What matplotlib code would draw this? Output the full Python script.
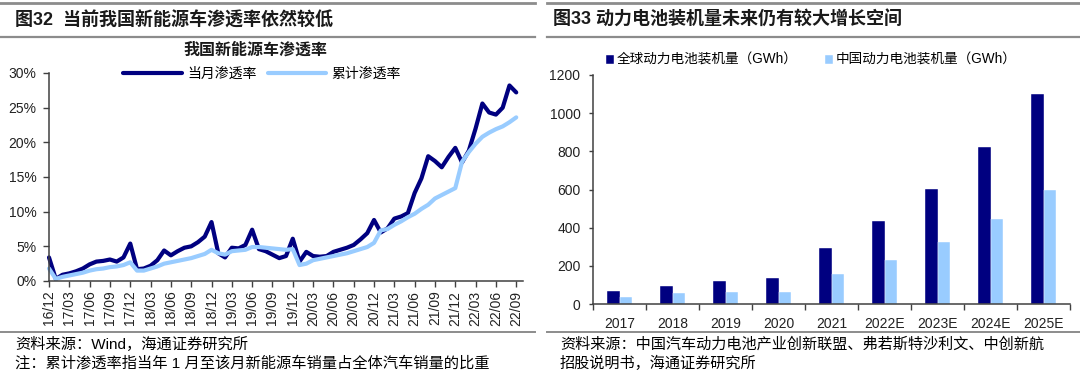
import matplotlib
matplotlib.use('Agg')
import matplotlib.pyplot as plt
from matplotlib.lines import Line2D
from matplotlib.ticker import FuncFormatter
import numpy as np

plt.rcParams['font.family'] = ['Liberation Sans', 'Noto Sans CJK SC']

# ---------------- data ----------------
quarter_labels = ['16/12', '17/03', '17/06', '17/09', '17/12', '18/03', '18/06', '18/09',
                  '18/12', '19/03', '19/06', '19/09', '19/12', '20/03', '20/06', '20/09',
                  '20/12', '21/03', '21/06', '21/09', '21/12', '22/03', '22/06', '22/09']

# monthly penetration (%), 2016-12 .. 2022-09
monthly_rate = [3.4,
                0.3, 0.9, 1.1, 1.4, 1.8, 2.4, 2.8, 2.9, 3.1, 2.8, 3.4, 5.4,
                1.7, 1.8, 2.2, 3.0, 4.4, 3.7, 4.3, 4.8, 5.0, 5.6, 6.4, 8.5,
                4.0, 3.4, 4.8, 4.7, 5.2, 7.4, 4.6, 4.3, 3.8, 3.3, 3.6, 6.1,
                2.8, 4.2, 3.6, 3.5, 3.6, 4.2, 4.5, 4.8, 5.2, 6.0, 6.9, 8.8,
                7.0, 7.6, 9.0, 9.3, 9.8, 12.7, 14.8, 18.0, 17.3, 16.4, 17.9, 19.2,
                17.1, 18.8, 22.0, 25.6, 24.3, 24.0, 25.0, 28.2, 27.2]

# cumulative (year-to-date) penetration (%)
cumulative_rate = [1.8,
                   0.3, 0.6, 0.8, 1.0, 1.2, 1.5, 1.7, 1.8, 2.0, 2.1, 2.3, 2.7,
                   1.5, 1.5, 1.8, 2.1, 2.5, 2.7, 2.9, 3.1, 3.3, 3.6, 3.9, 4.5,
                   4.0, 3.8, 4.3, 4.4, 4.5, 4.9, 4.9, 4.8, 4.7, 4.6, 4.5, 4.6,
                   2.3, 2.5, 3.0, 3.2, 3.4, 3.6, 3.8, 4.0, 4.3, 4.6, 4.9, 5.5,
                   7.3, 7.5, 8.1, 8.6, 9.2, 9.7, 10.4, 11.0, 11.9, 12.4, 12.9, 13.4,
                   17.2, 18.6, 19.8, 20.8, 21.4, 21.9, 22.3, 22.9, 23.6]

years = ['2017', '2018', '2019', '2020', '2021', '2022E', '2023E', '2024E', '2025E']
global_gwh = [66, 92, 118, 137, 296, 435, 604, 823, 1100]
china_gwh = [36, 57, 62, 64, 155, 231, 325, 446, 600]

DARK = '#000080'
LIGHT = '#99CCFF'
GRAY = '#8c8c8c'
AXC = '#404040'

W, H = 1080, 376
fig = plt.figure(figsize=(W / 100, H / 100), dpi=100)


def fx(px):
    return px / W


def fy(py):
    return 1 - py / H


def hline(x0, x1, y, lw=1.5):
    fig.add_artist(Line2D([fx(x0), fx(x1)], [fy(y), fy(y)], transform=fig.transFigure,
                          color=GRAY, lw=lw))


# ---------------- frame lines & texts ----------------
hline(0, 535, 3, 2.0)
hline(0, 535, 37, 1.6)
hline(0, 535, 332, 1.4)
hline(547, 1080, 3, 2.0)
hline(547, 1080, 37, 1.6)
hline(547, 1080, 332, 1.4)

fig.text(fx(15), fy(20), '图32  当前我国新能源车渗透率依然较低', fontsize=13, fontweight='bold',
         ha='left', va='center', color='#1a1a1a')
fig.text(fx(553), fy(20), '图33 动力电池装机量未来仍有较大增长空间', fontsize=13, fontweight='bold',
         ha='left', va='center', color='#1a1a1a')
fig.text(fx(255), fy(50), '我国新能源车渗透率', fontsize=11.5, fontweight='bold',
         ha='center', va='center', color='#1a1a1a')

fig.text(fx(15), fy(344), '资料来源：Wind，海通证券研究所', fontsize=11, ha='left', va='center')
fig.text(fx(15), fy(363), '注：累计渗透率指当年 1 月至该月新能源车销量占全体汽车销量的比重', fontsize=11,
         ha='left', va='center')
fig.text(fx(560), fy(344), '资料来源：中国汽车动力电池产业创新联盟、弗若斯特沙利文、中创新航', fontsize=10.9,
         ha='left', va='center')
fig.text(fx(560), fy(363), '招股说明书，海通证券研究所', fontsize=10.9, ha='left', va='center')

# ---------------- left chart ----------------
ax1 = fig.add_axes([fx(49), fy(281), fx(523) - fx(49), fy(73) - fy(281)])
x = np.arange(len(monthly_rate))
ax1.plot(x, monthly_rate, color=DARK, lw=3.0, solid_joinstyle='round', solid_capstyle='round',
         label='当月渗透率', clip_on=False)
ax1.plot(x, cumulative_rate, color=LIGHT, lw=3.0, solid_joinstyle='round', solid_capstyle='round',
         label='累计渗透率', clip_on=False)
ax1.set_xlim(0, 70)
ax1.set_ylim(0, 30)
ax1.set_yticks(range(0, 31, 5))
ax1.yaxis.set_major_formatter(FuncFormatter(lambda v, p: f'{v:.0f}%'))
ax1.set_xticks(x[::3])
ax1.set_xticklabels(quarter_labels, rotation=90)
for s in ['top', 'right']:
    ax1.spines[s].set_visible(False)
for s in ['left', 'bottom']:
    ax1.spines[s].set_color(AXC)
    ax1.spines[s].set_linewidth(1.1)
ax1.tick_params(axis='both', direction='out', length=4, width=1.0, color=AXC,
                labelsize=10, labelcolor='#222222')
ax1.tick_params(axis='x', pad=3)
ax1.tick_params(axis='y', pad=5)
ax1.legend(loc='center', bbox_to_anchor=(fx(262), fy(74)), bbox_transform=fig.transFigure,
           ncol=2, frameon=False, fontsize=10, handlelength=4.2, handletextpad=0.4,
           columnspacing=0.8, borderpad=0, borderaxespad=0)

# ---------------- right chart ----------------
ax2 = fig.add_axes([fx(593), fy(304), fx(1070) - fx(593), fy(75) - fy(304)])
xc = np.arange(len(years))
bw = 0.235
ax2.bar(xc - bw / 2, global_gwh, width=bw, color=DARK, edgecolor='white', linewidth=0.3,
        label='全球动力电池装机量（GWh）')
ax2.bar(xc + bw / 2, china_gwh, width=bw, color=LIGHT, edgecolor='white', linewidth=0.3,
        label='中国动力电池装机量（GWh）')
ax2.set_xlim(-0.5, len(years) - 0.5)
ax2.set_ylim(0, 1200)
ax2.set_yticks(range(0, 1201, 200))
ax2.set_xticks(xc)
ax2.set_xticklabels(years)
ax2.set_xticks(np.arange(-0.5, len(years)), minor=True)
for s in ['top', 'right']:
    ax2.spines[s].set_visible(False)
for s in ['left', 'bottom']:
    ax2.spines[s].set_color(AXC)
    ax2.spines[s].set_linewidth(1.1)
ax2.tick_params(axis='x', which='major', length=0, pad=9, labelsize=10, labelcolor='#222222')
ax2.tick_params(axis='x', which='minor', direction='out', length=4, width=1.0, color=AXC)
ax2.tick_params(axis='y', direction='out', length=3, width=1.0, color=AXC, pad=6,
                labelsize=10, labelcolor='#222222')
ax2.legend(loc='center', bbox_to_anchor=(fx(811), fy(60)), bbox_transform=fig.transFigure,
           ncol=2, frameon=False, fontsize=9.8, handlelength=0.6, handleheight=0.6,
           handletextpad=0.2, columnspacing=2.0, borderpad=0, borderaxespad=0)

fig.savefig('out.png', dpi=100)
